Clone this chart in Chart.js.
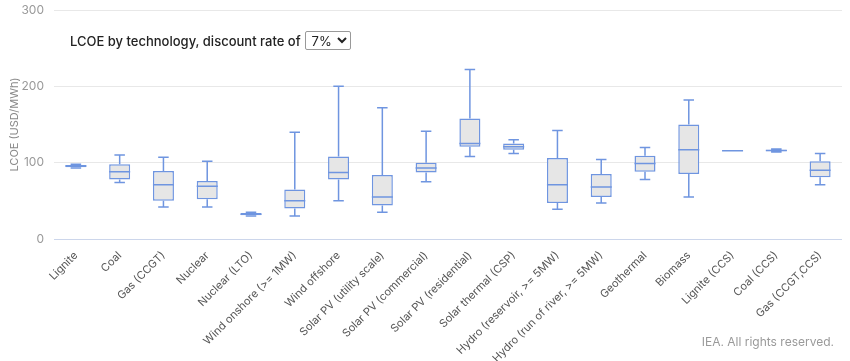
<!DOCTYPE html>
<html>
<head>
<meta charset="utf-8">
<script src="https://cdn.jsdelivr.net/npm/chart.js@4.4.1/dist/chart.umd.min.js"></script>
<style>
  html, body { margin: 0; padding: 0; background: #fff; }
  #wrap { position: relative; width: 850px; height: 361px; font-family: Inter, "Noto Sans", sans-serif; }
  #title { position: absolute; left: 70px; top: 31px; font-size: 13px; font-weight: 500; color: #222; display: flex; align-items: center; gap: 4px; }
  #title select { font-family: inherit; font-size: 13px; height: 19px; width: 46px; padding: 0 2px; border: 1px solid #999; border-radius: 2px; background: #fff; color: #222; }
  #credit { position: absolute; right: 16px; top: 334px; font-size: 12px; color: #9a9a9a; }
</style>
</head>
<body>
<div id="wrap">
  <canvas id="lcoeChart" width="850" height="361"></canvas>
  <div id="title">LCOE by technology, discount rate of
    <select><option>3%</option><option selected>7%</option><option>10%</option></select>
  </div>
  <div id="credit">IEA. All rights reserved.</div>
</div>
<script>
const categories = [
  "Lignite", "Coal", "Gas (CCGT)", "Nuclear", "Nuclear (LTO)",
  "Wind onshore (>= 1MW)", "Wind offshore", "Solar PV (utility scale)",
  "Solar PV (commercial)", "Solar PV (residential)", "Solar thermal (CSP)",
  "Hydro (reservoir, >= 5MW)", "Hydro (run of river, >= 5MW)", "Geothermal",
  "Biomass", "Lignite (CCS)", "Coal (CCS)", "Gas (CCGT,CCS)"
];
const minVals    = [93, 74, 42, 42, 30, 30, 50, 35, 75, 108, 112, 39, 47, 78, 55, 115.5, 114, 71];
const q1Vals     = [94, 78, 50, 52, 31, 40, 78, 44, 87, 121, 117, 47, 55, 88, 85, 115.5, 115, 81];
const medianVals = [95.5, 88, 71, 69, 32.5, 50, 87, 55, 93, 125, 121, 71, 68, 99, 117, 115.5, 116, 90];
const q3Vals     = [97, 98, 89, 76, 34, 65, 108, 84, 100, 158, 125, 106, 85, 109, 150, 115.5, 117, 102];
const maxVals    = [98, 110, 107, 102, 35, 140, 200, 172, 141, 222, 130, 142, 104, 120, 182, 115.5, 118, 112];
const yTicks = [0, 100, 200, 300];

const boxBlue = "#6f95e0";

// whiskers, caps and medians drawn on top of the floating bars
const whiskerPlugin = {
  id: "whiskers",
  afterDatasetsDraw(chart) {
    const { ctx, scales: { x, y } } = chart;
    const bars = chart.getDatasetMeta(0).data;
    ctx.save();
    ctx.strokeStyle = boxBlue;
    ctx.lineWidth = 1.5;
    categories.forEach((c, i) => {
      const cx = x.getPixelForValue(i);
      const half = bars[i].width / 2;
      const cap = half / 2;
      const yMin = y.getPixelForValue(minVals[i]);
      const yQ1 = y.getPixelForValue(q1Vals[i]);
      const yMed = y.getPixelForValue(medianVals[i]);
      const yQ3 = y.getPixelForValue(q3Vals[i]);
      const yMax = y.getPixelForValue(maxVals[i]);
      ctx.beginPath();
      ctx.moveTo(cx, yQ1); ctx.lineTo(cx, yMin);
      ctx.moveTo(cx - cap, yMin); ctx.lineTo(cx + cap, yMin);
      ctx.moveTo(cx, yQ3); ctx.lineTo(cx, yMax);
      ctx.moveTo(cx - cap, yMax); ctx.lineTo(cx + cap, yMax);
      ctx.moveTo(cx - half, yMed); ctx.lineTo(cx + half, yMed);
      ctx.stroke();
    });
    ctx.restore();
  }
};

new Chart(document.getElementById("lcoeChart"), {
  type: "bar",
  data: {
    labels: categories,
    datasets: [
      {
        data: categories.map((c, i) => [q1Vals[i], q3Vals[i]]),
        backgroundColor: "#e6e6e6",
        borderColor: boxBlue,
        borderWidth: 1.5,
        borderSkipped: false,
        barPercentage: 0.48,
        categoryPercentage: 1,
      },
    ],
  },
  plugins: [whiskerPlugin],
  options: {
    responsive: false,
    animation: false,
    layout: { padding: { top: 10, right: 8, left: 8, bottom: 0 } },
    scales: {
      x: {
        grid: { display: false },
        border: { display: false },
        ticks: {
          color: "#555",
          font: { family: "Inter", size: 11 },
          minRotation: 45,
          maxRotation: 45,
          padding: 2,
          autoSkip: false,
        },
        afterFit: (scale) => { scale.height = 122; },
      },
      y: {
        min: 0,
        max: 300,
        afterBuildTicks: (scale) => { scale.ticks = yTicks.map((v) => ({ value: v })); },
        afterFit: (scale) => {
          scale.width = 46;
          scale.paddingTop = 0;
          scale.paddingBottom = 0;
        },
        border: { display: false },
        grid: {
          color: (c) => (c.tick && c.tick.value === 0 ? "#ccd6eb" : "#e8e8e8"),
          drawTicks: false,
        },
        ticks: { color: "#999", font: { family: "Inter", size: 12 }, padding: 10 },
        title: {
          display: true,
          text: "LCOE (USD/MWh)",
          color: "#888",
          font: { family: "Inter", size: 11 },
          padding: 0,
        },
      },
    },
    plugins: {
      legend: { display: false },
      tooltip: { enabled: false },
    },
  },
});
</script>
</body>
</html>
